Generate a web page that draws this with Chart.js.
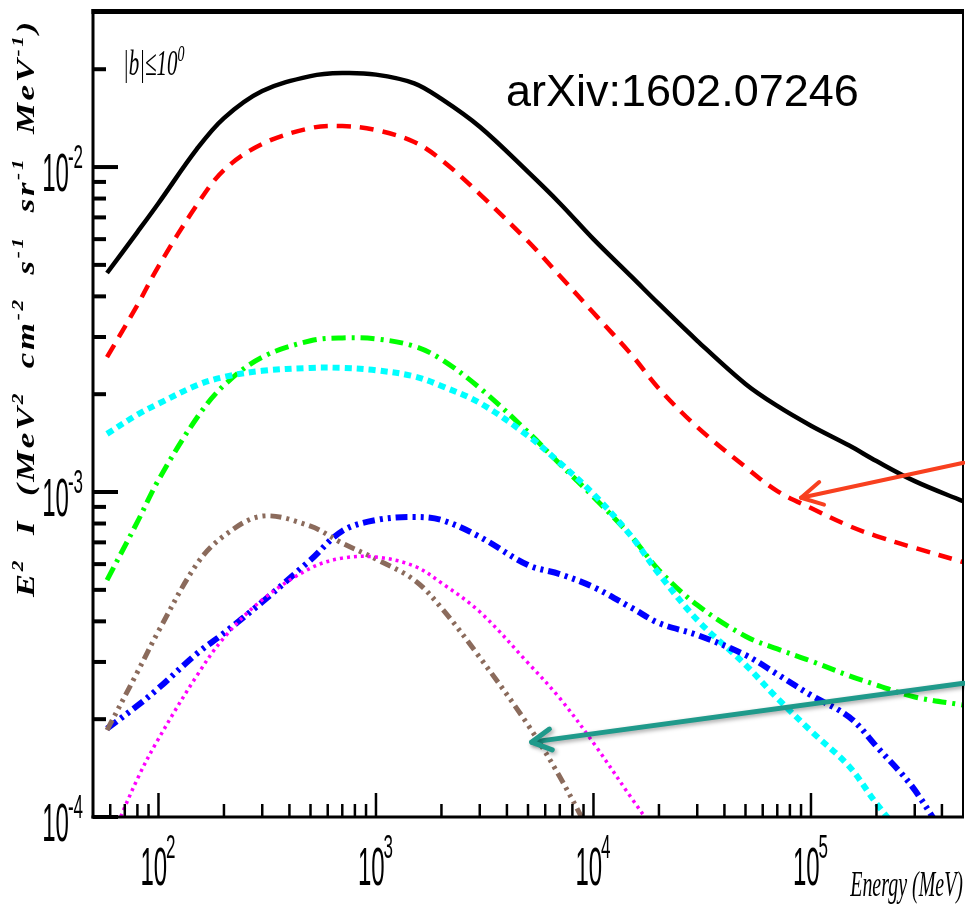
<!DOCTYPE html>
<html>
<head>
<meta charset="utf-8">
<title>E2 I diffuse spectrum</title>
<script src="https://cdn.jsdelivr.net/npm/chart.js@4.4.0/dist/chart.umd.min.js"></script>
<style>
  html, body { margin: 0; padding: 0; background: #fff; }
  #wrap { width: 965px; height: 908px; }
</style>
</head>
<body>
<div id="wrap"><canvas id="chartSpectrum" width="965" height="908"></canvas></div>
<script>
// energy grid (MeV) shared by every curve
const energy = [58, 80, 100, 150, 200, 300, 500, 700, 1000, 1500, 2000, 3000, 5000, 7000,
                1e4, 1.5e4, 2e4, 3e4, 5e4, 7e4, 1e5, 1.5e5, 2e5, 3e5, 5e5];

// E^2 I values (MeV^2 cm^-2 s^-1 sr^-1 MeV^-1)
const totalFlux = [4.72e-3, 6.31e-3, 7.74e-3, 1.135e-2, 1.415e-2, 1.714e-2, 1.905e-2, 1.946e-2, 1.925e-2, 1.81e-2,
                   1.62e-2, 1.33e-2, 9.66e-3, 7.74e-3, 6.0e-3, 4.59e-3, 3.79e-3, 2.92e-3, 2.15e-3, 1.84e-3,
                   1.60e-3, 1.39e-3, 1.245e-3, 1.08e-3, 9.37e-4];
const redFlux = [2.60e-3, 3.76e-3, 4.95e-3, 7.64e-3, 9.79e-3, 1.178e-2, 1.318e-2, 1.337e-2, 1.30e-2, 1.194e-2,
                 1.052e-2, 8.26e-3, 5.91e-3, 4.63e-3, 3.56e-3, 2.64e-3, 2.08e-3, 1.585e-3, 1.194e-3, 1.007e-3,
                 8.93e-4, 7.86e-4, 7.32e-4, 6.73e-4, 6.09e-4];
const greenFlux = [5.36e-4, 8.09e-4, 1.089e-3, 1.69e-3, 2.13e-3, 2.60e-3, 2.92e-3, 2.98e-3, 2.96e-3, 2.81e-3,
                   2.56e-3, 2.09e-3, 1.53e-3, 1.22e-3, 9.66e-4, 7.28e-4, 5.75e-4, 4.49e-4, 3.60e-4, 3.29e-4,
                   3.02e-4, 2.72e-4, 2.55e-4, 2.34e-4, 2.21e-4];
const cyanFlux = [1.51e-3, 1.73e-3, 1.87e-3, 2.13e-3, 2.26e-3, 2.36e-3, 2.41e-3, 2.41e-3, 2.37e-3, 2.27e-3,
                  2.12e-3, 1.88e-3, 1.49e-3, 1.23e-3, 9.86e-4, 7.28e-4, 5.6e-4, 4.04e-4, 2.94e-4, 2.32e-4,
                  1.84e-4, 1.43e-4, 1.10e-4, 7.9e-5, null];
const blueFlux = [1.87e-4, 2.20e-4, 2.49e-4, 3.18e-4, 3.68e-4, 4.59e-4, 6.18e-4, 7.59e-4, 8.20e-4, 8.38e-4,
                  8.20e-4, 7.28e-4, 5.96e-4, 5.59e-4, 5.10e-4, 4.40e-4, 3.95e-4, 3.63e-4, 3.15e-4, 2.75e-4,
                  2.37e-4, 2.03e-4, 1.65e-4, 1.21e-4, 7.0e-5];
const brownFlux = [1.85e-4, 2.79e-4, 3.73e-4, 6.0e-4, 7.33e-4, 8.43e-4, 7.85e-4, 6.96e-4, 6.22e-4, 5.36e-4,
                   4.40e-4, 3.10e-4, 1.92e-4, 1.33e-4, 8.5e-5, null, null, null, null, null,
                   null, null, null, null, null];
const magentaFlux = [7.98e-5, 1.31e-4, 1.74e-4, 2.72e-4, 3.56e-4, 4.66e-4, 5.83e-4, 6.26e-4, 6.31e-4, 5.92e-4,
                     5.25e-4, 4.28e-4, 2.98e-4, 2.32e-4, 1.69e-4, 1.14e-4, 8.7e-5, null, null, null,
                     null, null, null, null, null];

// axis decades
const xMajors = [1e2, 1e3, 1e4, 1e5];
const xExponents = ['2', '3', '4', '5'];
const yMajors = [1e-2, 1e-3, 1e-4];
const yExponents = ['-2', '-3', '-4'];

// arrow annotations [energy, flux]
const redArrow = { from: [5.03e5, 1.23e-3], to: [9.0e4, 9.6e-4] };
const tealArrow = { from: [5.03e5, 2.58e-4], to: [5200, 1.70e-4] };

function toPoints(values) {
    return energy.map((e, i) => ({ x: e, y: values[i] }));
}

function curve(values, color, width, dash) {
    return {
        data: toPoints(values),
        borderColor: color,
        borderWidth: width,
        borderDash: dash,
        fill: false,
        clip: 0,
        pointRadius: 0,
        tension: 0.35
    };
}

// stretched text helper (the original figure is squeezed horizontally)
function stretchedText(ctx, txt, x, y, font, sx, sy, align) {
    ctx.save();
    ctx.font = font;
    ctx.translate(x, y);
    ctx.scale(sx, sy);
    ctx.textAlign = align || 'left';
    ctx.textBaseline = 'alphabetic';
    ctx.fillText(txt, 0, 0);
    ctx.restore();
}

function textWidth(ctx, txt, font, sx) {
    ctx.save();
    ctx.font = font;
    const w = ctx.measureText(txt).width * sx;
    ctx.restore();
    return w;
}

function arrow(ctx, x1, y1, x2, y2, color, width, head, shadow) {
    const ang = Math.atan2(y2 - y1, x2 - x1);
    ctx.save();
    ctx.strokeStyle = color;
    ctx.lineWidth = width;
    ctx.lineCap = 'round';
    ctx.lineJoin = 'round';
    if (shadow) {
        ctx.shadowColor = 'rgba(0,0,0,0.35)';
        ctx.shadowBlur = 4;
        ctx.shadowOffsetX = 2;
        ctx.shadowOffsetY = 2;
    }
    ctx.beginPath();
    ctx.moveTo(x1, y1);
    ctx.lineTo(x2, y2);
    ctx.stroke();
    ctx.beginPath();
    ctx.moveTo(x2 - head * Math.cos(ang - 0.5), y2 - head * Math.sin(ang - 0.5));
    ctx.lineTo(x2, y2);
    ctx.lineTo(x2 - head * Math.cos(ang + 0.5), y2 - head * Math.sin(ang + 0.5));
    ctx.stroke();
    ctx.restore();
}

const narrow = '"Liberation Sans Narrow", "Liberation Sans", Arial, sans-serif';
const serif = '"Liberation Serif", "DejaVu Serif", serif';

const framePlugin = {
    id: 'frame',
    afterDatasetsDraw(chart) {
        const ctx = chart.ctx;
        const a = chart.chartArea;
        const xs = chart.scales.x;
        const ys = chart.scales.y;
        ctx.save();
        ctx.strokeStyle = '#000';
        ctx.fillStyle = '#000';
        ctx.lineCap = 'butt';

        // y ticks (inside, thick)
        ctx.lineWidth = 4;
        for (let d = -4; d <= -2; d++) {
            for (let m = 1; m <= 9; m++) {
                const v = m * Math.pow(10, d);
                if (v > ys.max) continue;
                const py = ys.getPixelForValue(v);
                const len = m === 1 ? 25 : 13;
                ctx.beginPath();
                ctx.moveTo(a.left, py);
                ctx.lineTo(a.left + len, py);
                ctx.stroke();
            }
        }
        // x ticks (inside, thin)
        ctx.lineWidth = 2.5;
        for (let d = 1; d <= 5; d++) {
            for (let m = 1; m <= 9; m++) {
                const v = m * Math.pow(10, d);
                if (v <= xs.min || v >= xs.max) continue;
                const px = xs.getPixelForValue(v);
                const len = m === 1 ? 24 : 13;
                ctx.beginPath();
                ctx.moveTo(px, a.bottom);
                ctx.lineTo(px, a.bottom - len);
                ctx.stroke();
            }
        }

        // frame
        ctx.lineWidth = 5;
        ctx.beginPath(); ctx.moveTo(a.left - 1.5, a.top - 0.5); ctx.lineTo(a.right + 1, a.top - 0.5); ctx.stroke();
        ctx.lineWidth = 3;
        ctx.beginPath(); ctx.moveTo(a.left, a.top - 3); ctx.lineTo(a.left, a.bottom + 1.5); ctx.stroke();
        ctx.beginPath(); ctx.moveTo(a.left - 1.5, a.bottom); ctx.lineTo(a.right + 1, a.bottom); ctx.stroke();
        ctx.lineWidth = 2;
        ctx.beginPath(); ctx.moveTo(a.right, a.top - 3); ctx.lineTo(a.right, a.bottom); ctx.stroke();

        // y tick labels
        const mainFont = '24px ' + narrow;
        const supFont = '17px ' + narrow;
        yMajors.forEach((v, i) => {
            const py = ys.getPixelForValue(v);
            const ws = textWidth(ctx, yExponents[i], supFont, 1);
            stretchedText(ctx, yExponents[i], 83 - ws, py + 1, supFont, 1, 2.0);
            stretchedText(ctx, '10', 84 - ws, py + 24, mainFont, 1, 2.2, 'right');
        });
        // x tick labels
        xMajors.forEach((v, i) => {
            const px = xs.getPixelForValue(v);
            const w10 = textWidth(ctx, '10', mainFont, 1);
            const ws = textWidth(ctx, xExponents[i], supFont, 1);
            const left = px - (w10 + ws) / 2;
            stretchedText(ctx, '10', left, 885, mainFont, 1, 2.2);
            stretchedText(ctx, xExponents[i], left + w10 - 1, 858, supFont, 1, 2.0);
        });

        // x title
        stretchedText(ctx, 'Energy (MeV)', 963, 896, 'italic 21px ' + serif, 0.95, 1.75, 'right');

        // |b| <= 10 deg label
        const bFont = 'italic 21px ' + serif;
        const wb = textWidth(ctx, '|b|\u226410', bFont, 1);
        stretchedText(ctx, '|b|\u226410', 123, 75, bFont, 1, 1.75);
        stretchedText(ctx, '0', 123 + wb, 61, 'italic 14px ' + serif, 1, 1.6);

        // arXiv tag
        ctx.font = '45px "Liberation Sans", Arial, sans-serif';
        ctx.textAlign = 'left';
        ctx.textBaseline = 'alphabetic';
        ctx.fillText('arXiv:1602.07246', 506, 106);

        // y title, rotated, built from pieces with superscripts
        const parts = [['E', 0], ['2', 1], ['  I  (MeV', 0], ['2', 1], ['  cm', 0], ['-2', 1], ['  s', 0],
                       ['-1', 1], ['  sr', 0], ['-1', 1], ['  MeV', 0], ['-1', 1], [')', 0]];
        const tFont = 'bold italic 26px ' + serif;
        const tSup = 'bold italic 16px ' + serif;
        ctx.save();
        ctx.letterSpacing = '2px';
        let total = 0;
        parts.forEach(p => { total += textWidth(ctx, p[0], p[1] ? tSup : tFont, 1); });
        const sx = 578 / total;
        ctx.translate(34, 597);
        ctx.rotate(-Math.PI / 2);
        let pos = 0;
        parts.forEach(p => {
            const f = p[1] ? tSup : tFont;
            stretchedText(ctx, p[0], pos, p[1] ? -11 : 0, f, sx, 1);
            pos += textWidth(ctx, p[0], f, sx);
        });
        ctx.restore();

        // arrows
        arrow(ctx, xs.getPixelForValue(redArrow.from[0]), ys.getPixelForValue(redArrow.from[1]),
              xs.getPixelForValue(redArrow.to[0]), ys.getPixelForValue(redArrow.to[1]), '#f8401f', 4, 24, false);
        arrow(ctx, xs.getPixelForValue(tealArrow.from[0]), ys.getPixelForValue(tealArrow.from[1]),
              xs.getPixelForValue(tealArrow.to[0]), ys.getPixelForValue(tealArrow.to[1]), '#1f9a8b', 5, 22, true);

        ctx.restore();
    }
};

const ctxSpectrum = document.getElementById('chartSpectrum').getContext('2d');
const chartSpectrum = new Chart(ctxSpectrum, {
    type: 'line',
    data: {
        datasets: [
            curve(magentaFlux, '#ff00ff', 3.5, [3, 4]),
            curve(brownFlux, '#8b6b5c', 5, [11, 5, 3, 5, 3, 5, 3, 5]),
            curve(blueFlux, '#0000ff', 6, [12, 5, 3, 5, 3, 5]),
            curve(cyanFlux, '#00ffff', 6, [7, 5]),
            curve(greenFlux, '#00ff00', 5, [14, 6, 3, 6]),
            curve(redFlux, '#ff0000', 4.5, [14, 9]),
            curve(totalFlux, '#000000', 4.5, [])
        ]
    },
    options: {
        responsive: false,
        animation: false,
        layout: { padding: { left: 93, top: 12, right: 2, bottom: 91 } },
        plugins: { legend: { display: false }, tooltip: { enabled: false } },
        scales: {
            x: { type: 'logarithmic', min: 50, max: 5e5, display: false },
            y: { type: 'logarithmic', min: 1e-4, max: 0.030, display: false }
        }
    },
    plugins: [framePlugin]
});
</script>
</body>
</html>
